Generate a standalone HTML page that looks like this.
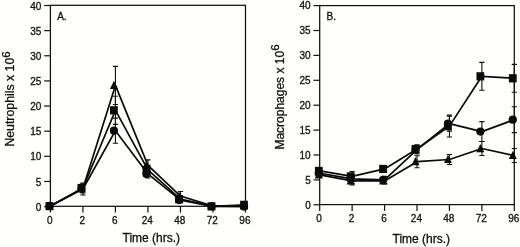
<!DOCTYPE html>
<html lang="en">
<head>
<meta charset="utf-8">
<title>Figure</title>
<style>
html,body{margin:0;padding:0;background:#fefefc;}
body{width:520px;height:247px;overflow:hidden;}
svg{display:block;font-family:'Liberation Sans', Arial, Helvetica, sans-serif;fill:#111;}
text{stroke:#111;stroke-width:0.3px;}
</style>
</head>
<body>
<svg width="520" height="247" viewBox="0 0 520 247">
<rect x="0" y="0" width="520" height="247" fill="#fefefc"/>
<rect x="50.40" y="5.30" width="195.10" height="201.00" fill="none" stroke="#111" stroke-width="1.25"/>
<line x1="44.20" y1="206.60" x2="50.40" y2="206.60" stroke="#111" stroke-width="1.2"/>
<text x="41.40" y="210.75" font-size="10" text-anchor="end">0</text>
<line x1="44.20" y1="181.46" x2="50.40" y2="181.46" stroke="#111" stroke-width="1.2"/>
<text x="41.40" y="185.61" font-size="10" text-anchor="end">5</text>
<line x1="44.20" y1="156.32" x2="50.40" y2="156.32" stroke="#111" stroke-width="1.2"/>
<text x="41.40" y="160.47" font-size="10" text-anchor="end">10</text>
<line x1="44.20" y1="131.19" x2="50.40" y2="131.19" stroke="#111" stroke-width="1.2"/>
<text x="41.40" y="135.34" font-size="10" text-anchor="end">15</text>
<line x1="44.20" y1="106.05" x2="50.40" y2="106.05" stroke="#111" stroke-width="1.2"/>
<text x="41.40" y="110.20" font-size="10" text-anchor="end">20</text>
<line x1="44.20" y1="80.91" x2="50.40" y2="80.91" stroke="#111" stroke-width="1.2"/>
<text x="41.40" y="85.06" font-size="10" text-anchor="end">25</text>
<line x1="44.20" y1="55.78" x2="50.40" y2="55.78" stroke="#111" stroke-width="1.2"/>
<text x="41.40" y="59.93" font-size="10" text-anchor="end">30</text>
<line x1="44.20" y1="30.64" x2="50.40" y2="30.64" stroke="#111" stroke-width="1.2"/>
<text x="41.40" y="34.79" font-size="10" text-anchor="end">35</text>
<line x1="44.20" y1="5.50" x2="50.40" y2="5.50" stroke="#111" stroke-width="1.2"/>
<text x="41.40" y="9.65" font-size="10" text-anchor="end">40</text>
<line x1="50.40" y1="206.30" x2="50.40" y2="212.60" stroke="#111" stroke-width="1.2"/>
<text x="49.80" y="224.20" font-size="10" text-anchor="middle">0</text>
<line x1="82.92" y1="206.30" x2="82.92" y2="212.60" stroke="#111" stroke-width="1.2"/>
<text x="82.32" y="224.20" font-size="10" text-anchor="middle">2</text>
<line x1="115.43" y1="206.30" x2="115.43" y2="212.60" stroke="#111" stroke-width="1.2"/>
<text x="114.83" y="224.20" font-size="10" text-anchor="middle">6</text>
<line x1="147.95" y1="206.30" x2="147.95" y2="212.60" stroke="#111" stroke-width="1.2"/>
<text x="147.35" y="224.20" font-size="10" text-anchor="middle">24</text>
<line x1="180.47" y1="206.30" x2="180.47" y2="212.60" stroke="#111" stroke-width="1.2"/>
<text x="179.87" y="224.20" font-size="10" text-anchor="middle">48</text>
<line x1="212.98" y1="206.30" x2="212.98" y2="212.60" stroke="#111" stroke-width="1.2"/>
<text x="212.38" y="224.20" font-size="10" text-anchor="middle">72</text>
<line x1="245.50" y1="206.30" x2="245.50" y2="212.60" stroke="#111" stroke-width="1.2"/>
<text x="244.90" y="224.20" font-size="10" text-anchor="middle">96</text>
<text x="151.30" y="241.60" font-size="12" text-anchor="middle">Time (hrs.)</text>
<text transform="translate(14.00,146.60) rotate(-90)" font-size="12.3" text-anchor="start">Neutrophils x 10<tspan dy="-4.3" font-size="11.5">6</tspan></text>
<text x="57.20" y="19.70" font-size="10">A.</text>
<path d="M82.92 183.98V193.03M80.32 183.98H85.52M80.32 193.03H85.52" stroke="#111" stroke-width="1.1" fill="none"/>
<path d="M115.43 66.33V104.54M112.83 66.33H118.03M112.83 104.54H118.03" stroke="#111" stroke-width="1.1" fill="none"/>
<path d="M147.95 159.84V170.90M145.35 159.84H150.55M145.35 170.90H150.55" stroke="#111" stroke-width="1.1" fill="none"/>
<path d="M180.47 191.52V200.57M177.87 191.52H183.07M177.87 200.57H183.07" stroke="#111" stroke-width="1.1" fill="none"/>
<path d="M82.92 183.98V192.02M80.32 183.98H85.52M80.32 192.02H85.52" stroke="#111" stroke-width="1.1" fill="none"/>
<path d="M115.43 96.25V124.40M112.83 96.25H118.03M112.83 124.40H118.03" stroke="#111" stroke-width="1.1" fill="none"/>
<path d="M147.95 165.37V174.42M145.35 165.37H150.55M145.35 174.42H150.55" stroke="#111" stroke-width="1.1" fill="none"/>
<path d="M180.47 196.04V202.08M177.87 196.04H183.07M177.87 202.08H183.07" stroke="#111" stroke-width="1.1" fill="none"/>
<path d="M82.92 182.97V195.04M80.32 182.97H85.52M80.32 195.04H85.52" stroke="#111" stroke-width="1.1" fill="none"/>
<path d="M115.43 118.12V143.25M112.83 118.12H118.03M112.83 143.25H118.03" stroke="#111" stroke-width="1.1" fill="none"/>
<path d="M147.95 169.90V177.94M145.35 169.90H150.55M145.35 177.94H150.55" stroke="#111" stroke-width="1.1" fill="none"/>
<path d="M180.47 197.55V202.58M177.87 197.55H183.07M177.87 202.58H183.07" stroke="#111" stroke-width="1.1" fill="none"/>
<polyline points="50.40,206.10 82.92,188.50 115.43,85.44 147.95,165.37 180.47,196.04 212.98,206.10 245.50,205.85" fill="none" stroke="#0a0a0a" stroke-width="1.7" stroke-linejoin="round"/>
<polyline points="50.40,206.10 82.92,188.00 115.43,110.32 147.95,169.90 180.47,199.06 212.98,206.35 245.50,204.84" fill="none" stroke="#0a0a0a" stroke-width="1.7" stroke-linejoin="round"/>
<polyline points="50.40,206.10 82.92,189.00 115.43,130.68 147.95,173.92 180.47,200.06 212.98,206.35 245.50,206.60" fill="none" stroke="#0a0a0a" stroke-width="1.7" stroke-linejoin="round"/>
<path d="M49.50 201.50L53.50 209.70H45.50Z" fill="#0a0a0a"/>
<path d="M81.42 183.90L85.42 192.10H77.42Z" fill="#0a0a0a"/>
<path d="M113.93 80.84L117.93 89.04H109.93Z" fill="#0a0a0a"/>
<path d="M146.45 160.77L150.45 168.97H142.45Z" fill="#0a0a0a"/>
<path d="M178.97 191.44L182.97 199.64H174.97Z" fill="#0a0a0a"/>
<path d="M211.48 201.50L215.48 209.70H207.48Z" fill="#0a0a0a"/>
<path d="M244.00 201.25L248.00 209.45H240.00Z" fill="#0a0a0a"/>
<rect x="45.60" y="202.00" width="7.8" height="8.2" fill="#0a0a0a"/>
<rect x="77.52" y="183.90" width="7.8" height="8.2" fill="#0a0a0a"/>
<rect x="110.03" y="106.22" width="7.8" height="8.2" fill="#0a0a0a"/>
<rect x="142.55" y="165.80" width="7.8" height="8.2" fill="#0a0a0a"/>
<rect x="175.07" y="194.96" width="7.8" height="8.2" fill="#0a0a0a"/>
<rect x="207.58" y="202.25" width="7.8" height="8.2" fill="#0a0a0a"/>
<rect x="240.10" y="200.74" width="7.8" height="8.2" fill="#0a0a0a"/>
<circle cx="49.50" cy="206.10" r="4.1" fill="#0a0a0a"/>
<circle cx="81.42" cy="189.00" r="4.1" fill="#0a0a0a"/>
<circle cx="113.93" cy="130.68" r="4.1" fill="#0a0a0a"/>
<circle cx="146.45" cy="173.92" r="4.1" fill="#0a0a0a"/>
<circle cx="178.97" cy="200.06" r="4.1" fill="#0a0a0a"/>
<circle cx="211.48" cy="206.35" r="4.1" fill="#0a0a0a"/>
<circle cx="244.00" cy="206.60" r="4.1" fill="#0a0a0a"/>
<rect x="319.70" y="5.60" width="194.60" height="199.00" fill="none" stroke="#111" stroke-width="1.25"/>
<line x1="313.50" y1="204.80" x2="319.70" y2="204.80" stroke="#111" stroke-width="1.2"/>
<text x="310.70" y="208.65" font-size="10" text-anchor="end">0</text>
<line x1="313.50" y1="179.90" x2="319.70" y2="179.90" stroke="#111" stroke-width="1.2"/>
<text x="310.70" y="183.75" font-size="10" text-anchor="end">5</text>
<line x1="313.50" y1="155.00" x2="319.70" y2="155.00" stroke="#111" stroke-width="1.2"/>
<text x="310.70" y="158.85" font-size="10" text-anchor="end">10</text>
<line x1="313.50" y1="130.10" x2="319.70" y2="130.10" stroke="#111" stroke-width="1.2"/>
<text x="310.70" y="133.95" font-size="10" text-anchor="end">15</text>
<line x1="313.50" y1="105.20" x2="319.70" y2="105.20" stroke="#111" stroke-width="1.2"/>
<text x="310.70" y="109.05" font-size="10" text-anchor="end">20</text>
<line x1="313.50" y1="80.30" x2="319.70" y2="80.30" stroke="#111" stroke-width="1.2"/>
<text x="310.70" y="84.15" font-size="10" text-anchor="end">25</text>
<line x1="313.50" y1="55.40" x2="319.70" y2="55.40" stroke="#111" stroke-width="1.2"/>
<text x="310.70" y="59.25" font-size="10" text-anchor="end">30</text>
<line x1="313.50" y1="30.50" x2="319.70" y2="30.50" stroke="#111" stroke-width="1.2"/>
<text x="310.70" y="34.35" font-size="10" text-anchor="end">35</text>
<line x1="313.50" y1="5.60" x2="319.70" y2="5.60" stroke="#111" stroke-width="1.2"/>
<text x="310.70" y="9.45" font-size="10" text-anchor="end">40</text>
<line x1="319.70" y1="204.60" x2="319.70" y2="210.90" stroke="#111" stroke-width="1.2"/>
<text x="319.10" y="221.70" font-size="10" text-anchor="middle">0</text>
<line x1="352.13" y1="204.60" x2="352.13" y2="210.90" stroke="#111" stroke-width="1.2"/>
<text x="351.53" y="221.70" font-size="10" text-anchor="middle">2</text>
<line x1="384.57" y1="204.60" x2="384.57" y2="210.90" stroke="#111" stroke-width="1.2"/>
<text x="383.97" y="221.70" font-size="10" text-anchor="middle">6</text>
<line x1="417.00" y1="204.60" x2="417.00" y2="210.90" stroke="#111" stroke-width="1.2"/>
<text x="416.40" y="221.70" font-size="10" text-anchor="middle">24</text>
<line x1="449.43" y1="204.60" x2="449.43" y2="210.90" stroke="#111" stroke-width="1.2"/>
<text x="448.83" y="221.70" font-size="10" text-anchor="middle">48</text>
<line x1="481.87" y1="204.60" x2="481.87" y2="210.90" stroke="#111" stroke-width="1.2"/>
<text x="481.27" y="221.70" font-size="10" text-anchor="middle">72</text>
<line x1="514.30" y1="204.60" x2="514.30" y2="210.90" stroke="#111" stroke-width="1.2"/>
<text x="513.70" y="221.70" font-size="10" text-anchor="middle">96</text>
<text x="421.30" y="243.00" font-size="12" text-anchor="middle">Time (hrs.)</text>
<text transform="translate(283.60,149.60) rotate(-90)" font-size="12" text-anchor="start">Macrophages x 10<tspan dy="-4.3" font-size="11.5">6</tspan></text>
<text x="326.50" y="19.80" font-size="10">B.</text>
<path d="M319.70 172.43V177.41M317.10 172.43H322.30M317.10 177.41H322.30" stroke="#111" stroke-width="1.1" fill="none"/>
<path d="M352.13 176.91V184.88M349.53 176.91H354.73M349.53 184.88H354.73" stroke="#111" stroke-width="1.1" fill="none"/>
<path d="M384.57 177.91V183.88M381.97 177.91H387.17M381.97 183.88H387.17" stroke="#111" stroke-width="1.1" fill="none"/>
<path d="M417.00 155.75V167.70M414.40 155.75H419.60M414.40 167.70H419.60" stroke="#111" stroke-width="1.1" fill="none"/>
<path d="M449.43 154.50V164.46M446.83 154.50H452.03M446.83 164.46H452.03" stroke="#111" stroke-width="1.1" fill="none"/>
<path d="M481.87 141.55V155.50M479.27 141.55H484.47M479.27 155.50H484.47" stroke="#111" stroke-width="1.1" fill="none"/>
<path d="M514.30 148.53V162.47M511.70 148.53H516.90M511.70 162.47H516.90" stroke="#111" stroke-width="1.1" fill="none"/>
<path d="M319.70 168.45V173.43M317.10 168.45H322.30M317.10 173.43H322.30" stroke="#111" stroke-width="1.1" fill="none"/>
<path d="M352.13 171.43V181.39M349.53 171.43H354.73M349.53 181.39H354.73" stroke="#111" stroke-width="1.1" fill="none"/>
<path d="M384.57 166.95V170.94M381.97 166.95H387.17M381.97 170.94H387.17" stroke="#111" stroke-width="1.1" fill="none"/>
<path d="M417.00 145.04V153.01M414.40 145.04H419.60M414.40 153.01H419.60" stroke="#111" stroke-width="1.1" fill="none"/>
<path d="M449.43 115.16V137.07M446.83 115.16H452.03M446.83 137.07H452.03" stroke="#111" stroke-width="1.1" fill="none"/>
<path d="M481.87 62.37V90.26M479.27 62.37H484.47M479.27 90.26H484.47" stroke="#111" stroke-width="1.1" fill="none"/>
<path d="M514.30 64.36V92.25M511.70 64.36H516.90M511.70 92.25H516.90" stroke="#111" stroke-width="1.1" fill="none"/>
<path d="M319.70 170.44V176.41M317.10 170.44H322.30M317.10 176.41H322.30" stroke="#111" stroke-width="1.1" fill="none"/>
<path d="M352.13 174.42V183.39M349.53 174.42H354.73M349.53 183.39H354.73" stroke="#111" stroke-width="1.1" fill="none"/>
<path d="M384.57 176.41V183.39M381.97 176.41H387.17M381.97 183.39H387.17" stroke="#111" stroke-width="1.1" fill="none"/>
<path d="M417.00 145.04V154.00M414.40 145.04H419.60M414.40 154.00H419.60" stroke="#111" stroke-width="1.1" fill="none"/>
<path d="M449.43 116.16V131.10M446.83 116.16H452.03M446.83 131.10H452.03" stroke="#111" stroke-width="1.1" fill="none"/>
<path d="M481.87 121.63V141.55M479.27 121.63H484.47M479.27 141.55H484.47" stroke="#111" stroke-width="1.1" fill="none"/>
<path d="M514.30 106.69V132.59M511.70 106.69H516.90M511.70 132.59H516.90" stroke="#111" stroke-width="1.1" fill="none"/>
<polyline points="319.70,174.92 352.13,180.90 384.57,180.90 417.00,161.72 449.43,159.48 481.87,148.53 514.30,155.50" fill="none" stroke="#0a0a0a" stroke-width="1.7" stroke-linejoin="round"/>
<polyline points="319.70,170.94 352.13,176.41 384.57,168.94 417.00,149.02 449.43,126.12 481.87,76.32 514.30,78.31" fill="none" stroke="#0a0a0a" stroke-width="1.7" stroke-linejoin="round"/>
<polyline points="319.70,173.43 352.13,178.90 384.57,179.90 417.00,149.52 449.43,123.63 481.87,131.59 514.30,119.64" fill="none" stroke="#0a0a0a" stroke-width="1.7" stroke-linejoin="round"/>
<path d="M318.80 170.32L322.80 178.52H314.80Z" fill="#0a0a0a"/>
<path d="M350.63 176.30L354.63 184.50H346.63Z" fill="#0a0a0a"/>
<path d="M383.07 176.30L387.07 184.50H379.07Z" fill="#0a0a0a"/>
<path d="M415.50 157.12L419.50 165.32H411.50Z" fill="#0a0a0a"/>
<path d="M447.93 154.88L451.93 163.08H443.93Z" fill="#0a0a0a"/>
<path d="M480.37 143.93L484.37 152.13H476.37Z" fill="#0a0a0a"/>
<path d="M512.80 150.90L516.80 159.10H508.80Z" fill="#0a0a0a"/>
<rect x="314.90" y="166.84" width="7.8" height="8.2" fill="#0a0a0a"/>
<rect x="346.73" y="172.31" width="7.8" height="8.2" fill="#0a0a0a"/>
<rect x="379.17" y="164.84" width="7.8" height="8.2" fill="#0a0a0a"/>
<rect x="411.60" y="144.92" width="7.8" height="8.2" fill="#0a0a0a"/>
<rect x="444.03" y="122.02" width="7.8" height="8.2" fill="#0a0a0a"/>
<rect x="476.47" y="72.22" width="7.8" height="8.2" fill="#0a0a0a"/>
<rect x="508.90" y="74.21" width="7.8" height="8.2" fill="#0a0a0a"/>
<circle cx="318.80" cy="173.43" r="4.1" fill="#0a0a0a"/>
<circle cx="350.63" cy="178.90" r="4.1" fill="#0a0a0a"/>
<circle cx="383.07" cy="179.90" r="4.1" fill="#0a0a0a"/>
<circle cx="415.50" cy="149.52" r="4.1" fill="#0a0a0a"/>
<circle cx="447.93" cy="123.63" r="4.1" fill="#0a0a0a"/>
<circle cx="480.37" cy="131.59" r="4.1" fill="#0a0a0a"/>
<circle cx="512.80" cy="119.64" r="4.1" fill="#0a0a0a"/>
</svg>
</body>
</html>
